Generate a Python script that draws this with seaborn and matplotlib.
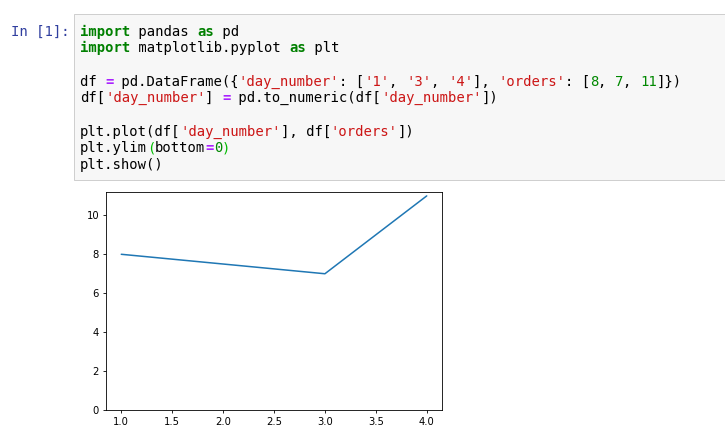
import matplotlib
matplotlib.use("Agg")
import matplotlib.pyplot as plt
import matplotlib.patches as mpatches
from matplotlib.transforms import IdentityTransform
import pandas as pd
import seaborn as sns

# chart values
day_number = [1, 3, 4]
orders = [8, 7, 11]
x_ticks = [1.0, 1.5, 2.0, 2.5, 3.0, 3.5, 4.0]
y_ticks = [0, 2, 4, 6, 8, 10]

# notebook cell source, split into (text, token kind) pieces
code_lines = [
    [("import", "kw"), (" pandas ", "txt"), ("as", "kw"), (" pd", "txt")],
    [("import", "kw"), (" matplotlib.pyplot ", "txt"), ("as", "kw"), (" plt", "txt")],
    [],
    [("df ", "txt"), ("=", "op"), (" pd.DataFrame({", "txt"), ("'day_number'", "str"),
     (": [", "txt"), ("'1'", "str"), (", ", "txt"), ("'3'", "str"), (", ", "txt"),
     ("'4'", "str"), ("], ", "txt"), ("'orders'", "str"), (": [", "txt"),
     ("8", "num"), (", ", "txt"), ("7", "num"), (", ", "txt"), ("11", "num"), ("]})", "txt")],
    [("df[", "txt"), ("'day_number'", "str"), ("] ", "txt"), ("=", "op"),
     (" pd.to_numeric(df[", "txt"), ("'day_number'", "str"), ("])", "txt")],
    [],
    [("plt.plot(df[", "txt"), ("'day_number'", "str"), ("], df[", "txt"),
     ("'orders'", "str"), ("])", "txt")],
    [("plt.ylim", "txt"), ("(", "br"), ("bottom", "txt"), ("=", "op"), ("0", "num"), (")", "br")],
    [("plt.show()", "txt")],
]

token_style = {
    "txt": ("#000000", "normal"),
    "kw": ("#008000", "bold"),
    "str": ("#CC1515", "normal"),
    "num": ("#008800", "normal"),
    "op": ("#AA22FF", "bold"),
    "br": ("#00BB00", "normal"),
}

W, H, DPI = 725, 436, 100
sns.set_style("ticks")
plt.rcParams["font.family"] = ["DejaVu Sans"]

fig = plt.figure(figsize=(W / DPI, H / DPI), dpi=DPI)
fig.patch.set_facecolor("white")
px = IdentityTransform()

# code cell box
cell = mpatches.Rectangle((74, H - 180), W, 166, transform=px,
                          facecolor="#f7f7f7", edgecolor="#cfcfcf", lw=0.72)
fig.patches.append(cell)

mono = "DejaVu Sans Mono"
fs = 10
cw = 0.602 * fs * DPI / 72  # advance width of one mono character in pixels

fig.text(11, H - 35.5, "In [1]:", transform=px, family=mono, fontsize=fs,
         color="#303F9F", va="baseline", ha="left")

x0 = 80
for i, line in enumerate(code_lines):
    base = H - (35.5 + i * 16.7)
    col = 0
    for text, kind in line:
        color, weight = token_style[kind]
        fig.text(x0 + col * cw, base, text, transform=px, family=mono,
                 fontsize=fs, color=color, fontweight=weight,
                 va="baseline", ha="left")
        col += len(text)

# output plot
df = pd.DataFrame({"day_number": day_number, "orders": orders})
ax = fig.add_axes([106 / W, 1 - 410 / H, 336 / W, 218 / H])
sns.lineplot(data=df, x="day_number", y="orders", ax=ax,
             color="#1f77b4", linewidth=1.1)
ax.set_ylim(bottom=0)
ax.set_xticks(x_ticks)
ax.set_yticks(y_ticks)
ax.set_xlabel("")
ax.set_ylabel("")
ax.tick_params(labelsize=7.2, length=2.5, width=0.6, pad=2.5, colors="#000000")
for s in ax.spines.values():
    s.set_linewidth(0.6)
    s.set_color("#000000")
    s.set_visible(True)

fig.savefig("out.png", dpi=DPI)
